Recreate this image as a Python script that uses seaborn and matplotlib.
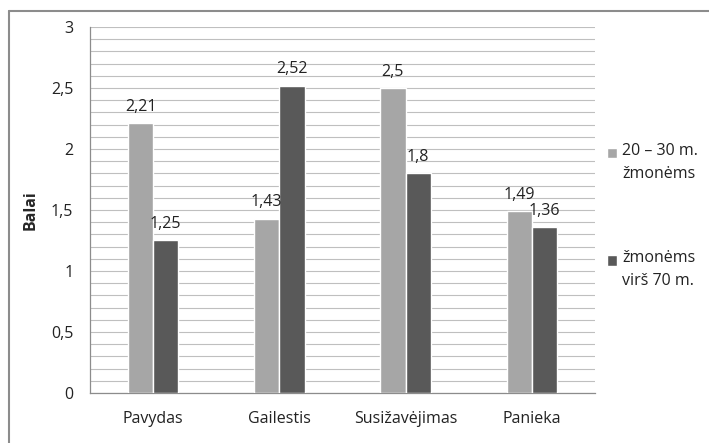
import pandas as pd
import numpy as np
import matplotlib.pyplot as plt
import seaborn as sns
from matplotlib.lines import Line2D
from matplotlib.patches import Rectangle
from matplotlib.legend_handler import HandlerPatch
from matplotlib.ticker import MultipleLocator, FuncFormatter

# --- data ---
categories = ['Pavydas', 'Gailestis', 'Susižavėjimas', 'Panieka']
series_names = ['20 – 30 m.\nžmonėms', 'žmonėms\nvirš 70 m.']
young = [2.21, 1.43, 2.5, 1.49]
old = [1.25, 2.52, 1.8, 1.36]
young_labels = ['2,21', '1,43', '2,5', '1,49']
old_labels = ['1,25', '2,52', '1,8', '1,36']

df = pd.DataFrame({
    'Kategorija': categories * 2,
    'Grupe': [series_names[0]] * 4 + [series_names[1]] * 4,
    'Balai': young + old,
})

sns.set_style('white')
plt.rcParams['font.family'] = ['Open Sans', 'DejaVu Sans']

fig = plt.figure(figsize=(7.09, 4.43), dpi=100)
ax = fig.add_axes([0.127, 0.113, 0.712, 0.826])

# chart-area frame: only top and left edges are visible in the crop
top_y = 1 - 10.5 / 443
left_x = 8.5 / 709
fig.lines.append(Line2D([left_x, 1], [top_y, top_y], transform=fig.transFigure,
                        color='#8c8c8c', linewidth=1.5))
fig.lines.append(Line2D([left_x, left_x], [0, top_y], transform=fig.transFigure,
                        color='#8c8c8c', linewidth=1.5))

sns.barplot(data=df, x='Kategorija', y='Balai', hue='Grupe',
            palette=['#a6a6a6', '#595959'], width=0.4, saturation=1,
            ax=ax, zorder=3)

ax.set_ylim(0, 3)
ax.yaxis.set_major_locator(MultipleLocator(0.5))
ax.yaxis.set_minor_locator(MultipleLocator(0.1))
ax.yaxis.set_major_formatter(FuncFormatter(lambda v, p: f'{v:g}'.replace('.', ',')))
ax.grid(axis='y', which='both', color='#bfbfbf', linewidth=0.8, zorder=0)
ax.set_axisbelow(True)

for cont, labs in zip(ax.containers, [young_labels, old_labels]):
    ax.bar_label(cont, labels=labs, padding=6, fontsize=11.5, color='#222222')

ax.set_xlabel('')
ax.set_ylabel('Balai', fontsize=11.5, fontweight='bold', labelpad=9)
ax.tick_params(axis='x', length=0, labelsize=11.5, pad=13, colors='#222222')
ax.tick_params(axis='y', which='major', direction='out', length=5, width=0.8,
               labelsize=11.5, pad=7, colors='#222222')
ax.tick_params(axis='y', which='major', color='#8c8c8c')
ax.tick_params(axis='y', which='minor', length=0)
for s in ['top', 'right']:
    ax.spines[s].set_visible(False)
for s in ['left', 'bottom']:
    ax.spines[s].set_color('#8c8c8c')
    ax.spines[s].set_linewidth(0.9)


# Excel puts the legend square next to the first line of a wrapped label
def top_square(legend, orig_handle, xdescent, ydescent, width, height, fontsize):
    s = 0.68 * fontsize
    return Rectangle((-xdescent + width - s, -ydescent + height - s + 0.1 * fontsize), s, s)


leg = ax.legend(loc='upper left', bbox_to_anchor=(1.01, 0.70), frameon=False,
                fontsize=11.5, handlelength=0.7, handleheight=2.4,
                handletextpad=0.3, labelspacing=4.3, borderaxespad=0,
                handler_map={Rectangle: HandlerPatch(patch_func=top_square)})
for t in leg.get_texts():
    t.set_color('#222222')
    t.set_linespacing(1.55)

fig.savefig('out.png', dpi=100)
